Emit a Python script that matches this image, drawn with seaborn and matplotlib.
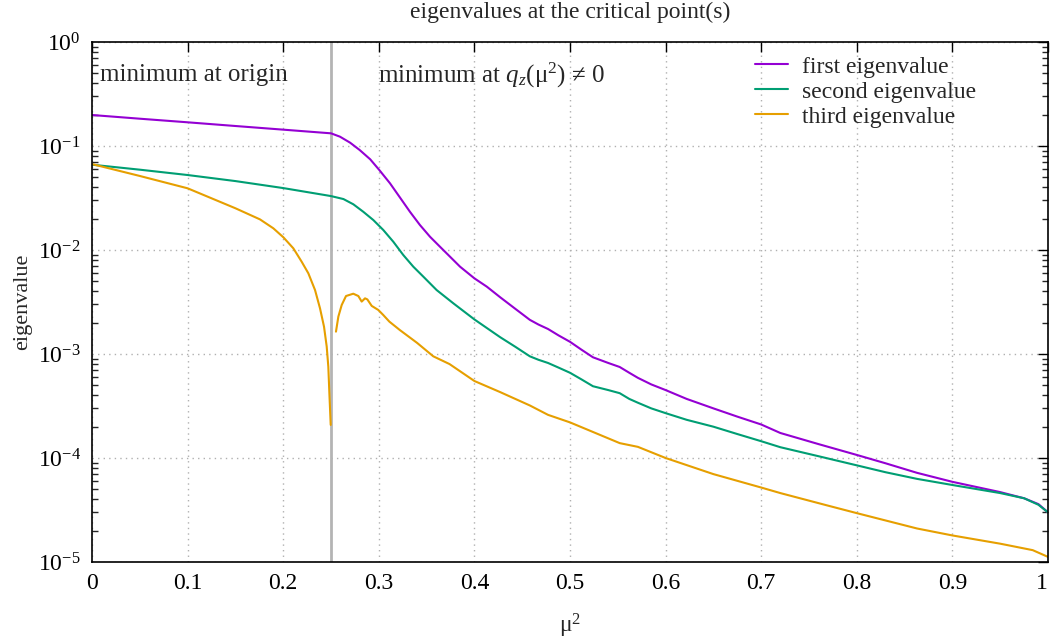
import numpy as np
import pandas as pd
import matplotlib
matplotlib.use("Agg")
import matplotlib.pyplot as plt
import seaborn as sns
from matplotlib.ticker import LogLocator, FixedLocator, FuncFormatter

# ---- data ----
mu_first = [0, 0.05, 0.1, 0.15, 0.2, 0.25, 0.2594, 0.270, 0.280, 0.291, 0.3005, 0.3117,
            0.322, 0.3326, 0.343, 0.3536, 0.364, 0.3745, 0.385, 0.40, 0.413, 0.427, 0.443,
            0.458, 0.467, 0.477, 0.488, 0.50, 0.512, 0.524, 0.54, 0.552, 0.562, 0.571,
            0.585, 0.60, 0.622, 0.65, 0.675, 0.70, 0.72, 0.76, 0.80, 0.83, 0.863, 0.90,
            0.95, 0.975, 0.99, 1.0]
ev_first = [0.1986, 0.183, 0.169, 0.1557, 0.1436, 0.1324, 0.1229, 0.1076, 0.0915, 0.0745,
            0.0588, 0.0438, 0.0321, 0.0233, 0.0174, 0.0134, 0.01075, 0.00862, 0.00691,
            0.00534, 0.00444, 0.00351, 0.00271, 0.00213, 0.00192, 0.00174, 0.00151,
            0.00131, 0.0011, 0.00093, 0.00082, 0.00075, 0.00066, 0.00059, 0.00051,
            0.00045, 0.00037, 0.0003, 0.00025, 0.00021, 0.000174, 0.000136, 0.000107,
            8.9e-5, 7.2e-5, 5.9e-5, 4.7e-5, 4.1e-5, 3.6e-5, 3.0e-5]

mu_second = [0, 0.05, 0.1, 0.15, 0.2, 0.25, 0.263, 0.2734, 0.2838, 0.2943, 0.3047,
             0.3152, 0.3256, 0.3361, 0.3466, 0.3605, 0.378, 0.40, 0.427, 0.443, 0.458,
             0.467, 0.477, 0.488, 0.50, 0.512, 0.524, 0.54, 0.552, 0.562, 0.571, 0.585,
             0.60, 0.622, 0.65, 0.675, 0.70, 0.72, 0.76, 0.80, 0.83, 0.863, 0.90, 0.95,
             0.975, 0.99, 1.0]
ev_second = [0.0661, 0.0592, 0.0526, 0.046, 0.0394, 0.033, 0.0309, 0.0275, 0.0233,
             0.0194, 0.01557, 0.012, 0.00895, 0.00691, 0.00554, 0.00412, 0.00307, 0.00215,
             0.00145, 0.00117, 0.00095, 0.00088, 0.00082, 0.00074, 0.00066, 0.00057,
             0.00049, 0.00045, 0.00042, 0.00037, 0.00034, 0.0003, 0.00027, 0.000233,
             0.0002, 0.00017, 0.000145, 0.000127, 0.000104, 8.5e-5, 7.3e-5, 6.3e-5,
             5.5e-5, 4.6e-5, 4.1e-5, 3.55e-5, 3.0e-5]

mu_third_a = [0, 0.05, 0.1, 0.15, 0.1757, 0.1897, 0.2002, 0.2106, 0.2193, 0.2263, 0.2333,
              0.2385, 0.2427, 0.2455, 0.2472, 0.2483, 0.2497]
ev_third_a = [0.067, 0.0515, 0.0392, 0.0252, 0.0197, 0.01616, 0.01324, 0.01038, 0.00772,
              0.00597, 0.00412, 0.00275, 0.00183, 0.00118, 0.000755, 0.000419, 0.000208]

mu_third_b = [0.2552, 0.2577, 0.2612, 0.2657, 0.2733, 0.2786, 0.2821, 0.2856, 0.288,
              0.2926, 0.2995, 0.3047, 0.311, 0.322, 0.34, 0.357, 0.374, 0.40, 0.427,
              0.458, 0.477, 0.50, 0.524, 0.552, 0.571, 0.60, 0.65, 0.70, 0.72, 0.769,
              0.80, 0.863, 0.90, 0.95, 0.984, 1.0]
ev_third_b = [0.00164, 0.00229, 0.00296, 0.00361, 0.0038, 0.00361, 0.00319, 0.00343,
              0.00335, 0.0029, 0.00265, 0.00237, 0.00205, 0.0017, 0.00128, 0.00095,
              0.0008, 0.00055, 0.00043, 0.00032, 0.00026, 0.00022, 0.000178, 0.000139,
              0.000128, 0.0001, 7.0e-5, 5.2e-5, 4.6e-5, 3.5e-5, 2.95e-5, 2.1e-5, 1.8e-5,
              1.5e-5, 1.3e-5, 1.12e-5]

boundary = 0.25
x_ticks = [0, 0.1, 0.2, 0.3, 0.4, 0.5, 0.6, 0.7, 0.8, 0.9, 1]
x_tick_labels = ["0", "0.1", "0.2", "0.3", "0.4", "0.5", "0.6", "0.7", "0.8", "0.9", "1"]
labels = ["first eigenvalue", "second eigenvalue", "third eigenvalue"]
colors = ["#9400d3", "#009e73", "#e69f00"]

# ---- style ----
sns.set_style("white")
plt.rcParams["font.family"] = ["Liberation Serif", "DejaVu Serif"]
plt.rcParams["mathtext.fontset"] = "custom"
plt.rcParams["mathtext.rm"] = "Liberation Serif"
plt.rcParams["mathtext.it"] = "Liberation Serif:italic"
plt.rcParams["mathtext.bf"] = "Liberation Serif:bold"

fig = plt.figure(figsize=(10.5, 6.43), dpi=100)
ax = fig.add_axes([92 / 1050, 1 - 562 / 643, (1048 - 92) / 1050, (562 - 42) / 643])

df1 = pd.DataFrame({"mu": mu_first, "ev": ev_first})
df2 = pd.DataFrame({"mu": mu_second, "ev": ev_second})
df3a = pd.DataFrame({"mu": mu_third_a, "ev": ev_third_a})
df3b = pd.DataFrame({"mu": mu_third_b, "ev": ev_third_b})

ax.axvline(boundary, color="#b4b4b4", lw=2, zorder=1)

lw = 1.5
sns.lineplot(data=df1, x="mu", y="ev", ax=ax, color=colors[0], lw=lw, label=labels[0], sort=False)
sns.lineplot(data=df2, x="mu", y="ev", ax=ax, color=colors[1], lw=lw, label=labels[1], sort=False)
sns.lineplot(data=df3a, x="mu", y="ev", ax=ax, color=colors[2], lw=lw, label=labels[2], sort=False)
sns.lineplot(data=df3b, x="mu", y="ev", ax=ax, color=colors[2], lw=lw, sort=False, legend=False)

ax.set_yscale("log")
ax.set_xlim(0, 1)
ax.set_ylim(1e-5, 1)

ax.xaxis.set_major_locator(FixedLocator(x_ticks))
ax.set_xticklabels(x_tick_labels)
ax.get_xticklabels()[-1].set_horizontalalignment("right")
ax.yaxis.set_major_locator(LogLocator(base=10, numticks=10))
ax.yaxis.set_minor_locator(LogLocator(base=10, subs=np.arange(2, 10), numticks=20))
ax.yaxis.set_major_formatter(FuncFormatter(lambda v, p: r"$10^{%d}$" % int(round(np.log10(v)))))

ax.tick_params(axis="both", which="major", direction="in", length=7, width=1,
               top=True, right=True, labelsize=17, pad=8, colors="black")
ax.tick_params(axis="y", which="minor", direction="in", length=4, width=1,
               left=True, right=True)
ax.grid(True, which="major", color="#b0b0b0", linestyle=(0, (1, 3)), lw=1)

for s in ax.spines.values():
    s.set_color("black")
    s.set_linewidth(1.2)

ax.set_xlabel(r"μ$^2$", fontsize=17, labelpad=13)
ax.set_ylabel("eigenvalue", fontsize=16, labelpad=4)
ax.set_title("eigenvalues at the critical point(s)", fontsize=17, pad=17)

ax.text(0.008, 0.48, "minimum at origin", fontsize=18, va="center", ha="left")
ax.text(0.299, 0.48, r"minimum at $q_z$(μ$^2$) ≠ 0", fontsize=18, va="center", ha="left")

leg = ax.legend(loc="upper left", frameon=False, fontsize=17, handlelength=1.4,
                handletextpad=0.6, labelspacing=0.15, borderpad=0, borderaxespad=0,
                bbox_to_anchor=((755 - 92) / 956, (562 - 56) / 520))

fig.savefig("out.png", dpi=100)
